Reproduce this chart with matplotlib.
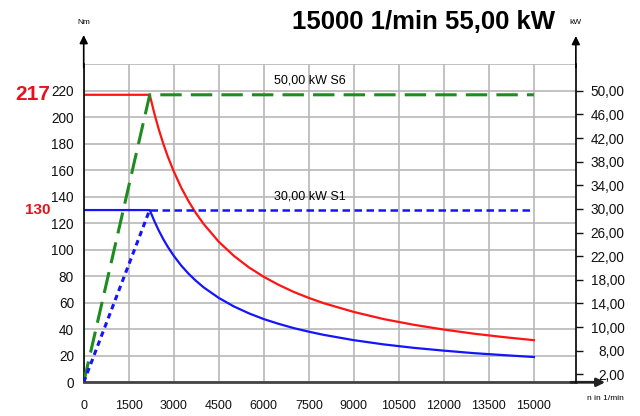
import matplotlib as mpl
mpl.use('Agg')
import matplotlib.pyplot as plt
import numpy as np

plt.rcParams['font.family'] = ['Liberation Sans', 'DejaVu Sans']

# S6 / S1 ratings
t_s6 = 217
t_s1 = 130
p_s6 = 50.0
p_s1 = 30.0

# torque curves, Nm over speed in 1/min
speed_t = [0, 2200, 2350, 2500, 2650, 2800, 3000, 3250, 3500, 3750, 4000, 4500, 5000,
           5500, 6000, 6500, 7000, 7500, 8000, 9000, 10000, 11000, 12000, 13000, 14000, 15000]
torque_s6 = [217, 217, 203.2, 191.0, 180.2, 170.5, 159.2, 146.9, 136.4, 127.3, 119.4, 106.1,
             95.5, 86.8, 79.6, 73.5, 68.2, 63.7, 59.7, 53.1, 47.7, 43.4, 39.8, 36.7, 34.1, 31.8]
torque_s1 = [130, 130, 121.9, 114.6, 108.1, 102.3, 95.5, 88.1, 81.8, 76.4, 71.6, 63.7,
             57.3, 52.1, 47.7, 44.1, 40.9, 38.2, 35.8, 31.8, 28.6, 26.0, 23.9, 22.0, 20.5, 19.1]

# power curves, kW
speed_p = [0, 2200, 15000]
power_s6 = [0, 50.0, 50.0]
power_s1 = [0, 30.0, 30.0]

x_ticks = [0, 1500, 3000, 4500, 6000, 7500, 9000, 10500, 12000, 13500, 15000]
y_ticks = [0, 20, 40, 60, 80, 100, 120, 140, 160, 180, 200, 220, 240]
kw_labels = ['50,00', '46,00', '42,00', '38,00', '34,00', '30,00', '26,00',
             '22,00', '18,00', '14,00', '10,00', '8,00', '2,00']

red = '#ff1414'
blue = '#1414ff'
green = '#1e8c1e'
grid_c = '#b8b8b8'

fig = plt.figure(figsize=(6.4, 4.16), dpi=100)
ax = fig.add_axes([0.1308, 0.081, 0.769, 0.7644])
ax.set_xlim(0, 16400)
ax.set_ylim(0, 240)

ax.set_xticks(x_ticks)
ax.set_xticklabels([str(v) for v in x_ticks], fontsize=9)
ax.set_yticks(y_ticks)
ax.set_yticklabels([str(v) if v < 240 else '' for v in y_ticks], fontsize=9.8)
ax.tick_params(axis='both', length=0, pad=7, colors='#111111')
ax.tick_params(axis='x', pad=13)
ax.grid(True, color=grid_c, lw=1.2)
ax.set_axisbelow(True)
for s in ['top', 'right']:
    ax.spines[s].set_visible(False)
ax.spines['left'].set_color('black')
ax.spines['left'].set_linewidth(1.2)
ax.spines['bottom'].set_color('#444444')
ax.spines['bottom'].set_linewidth(2)

ax.plot(speed_t, torque_s6, color=red, lw=1.6)
ax.plot(speed_t, torque_s1, color=blue, lw=1.6)

# kW axis, scaled so the S6 power sits on the S6 torque level
ax2 = ax.twinx()
kw_top = 240 * p_s6 / t_s6
ax2.set_ylim(0, kw_top)
ax2.set_yticks(np.linspace(kw_top * 220 / 240, kw_top * 6 / 240, len(kw_labels)))
ax2.set_yticklabels(kw_labels, fontsize=9.8)
ax2.tick_params(axis='y', length=5, width=1, pad=30, colors='#111111')
for lab in ax2.get_yticklabels():
    lab.set_horizontalalignment('right')
for s in ['top', 'left', 'bottom']:
    ax2.spines[s].set_visible(False)
ax2.spines['right'].set_color('black')
ax2.spines['right'].set_linewidth(1.2)

ax2.plot(speed_p, power_s6, color=green, lw=2.2, dashes=(7, 3))
ax2.plot(speed_p[:2], power_s1[:2], color=blue, lw=2.2, dashes=(1.8, 1.4))
ax2.plot(speed_p[1:], power_s1[1:], color=blue, lw=1.8, dashes=(3, 1.8))

# axis arrows
arrow = dict(arrowstyle='-|>', color='black', lw=1.2, mutation_scale=12, shrinkA=0, shrinkB=0)
ax.annotate('', xy=(0, 1.092), xytext=(0, 0.99), xycoords='axes fraction', arrowprops=arrow)
ax.annotate('', xy=(1, 1.089), xytext=(1, 0.99), xycoords='axes fraction', arrowprops=arrow)
ax.annotate('', xy=(1.0596, 0), xytext=(0.99, 0), xycoords='axes fraction',
            arrowprops=dict(arrow, color='#222222', lw=2))

ax.text(0, 1.12, 'Nm', transform=ax.transAxes, ha='center', va='bottom', fontsize=6)
ax.text(1, 1.12, 'kW', transform=ax.transAxes, ha='center', va='bottom', fontsize=6)
ax.text(1.06, -0.04, 'n in 1/min', transform=ax.transAxes, ha='center', va='top', fontsize=6)

ax.text(7550, 228, '50,00 kW S6', ha='center', va='center', fontsize=9)
ax.text(7550, 140, '30,00 kW S1', ha='center', va='center', fontsize=9)

ax.text(-0.068, t_s6, str(t_s6), transform=ax.get_yaxis_transform(), ha='right', va='center',
        fontsize=15, fontweight='bold', color='#e8101e')
ax.text(-0.068, t_s1, str(t_s1), transform=ax.get_yaxis_transform(), ha='right', va='center',
        fontsize=11, fontweight='bold', color='#e8101e')

fig.text(424 / 640, 1 - 22 / 416, '15000 1/min 55,00 kW', ha='center', va='center',
         fontsize=18.5, fontweight='bold')

fig.savefig('out.png', dpi=100)
